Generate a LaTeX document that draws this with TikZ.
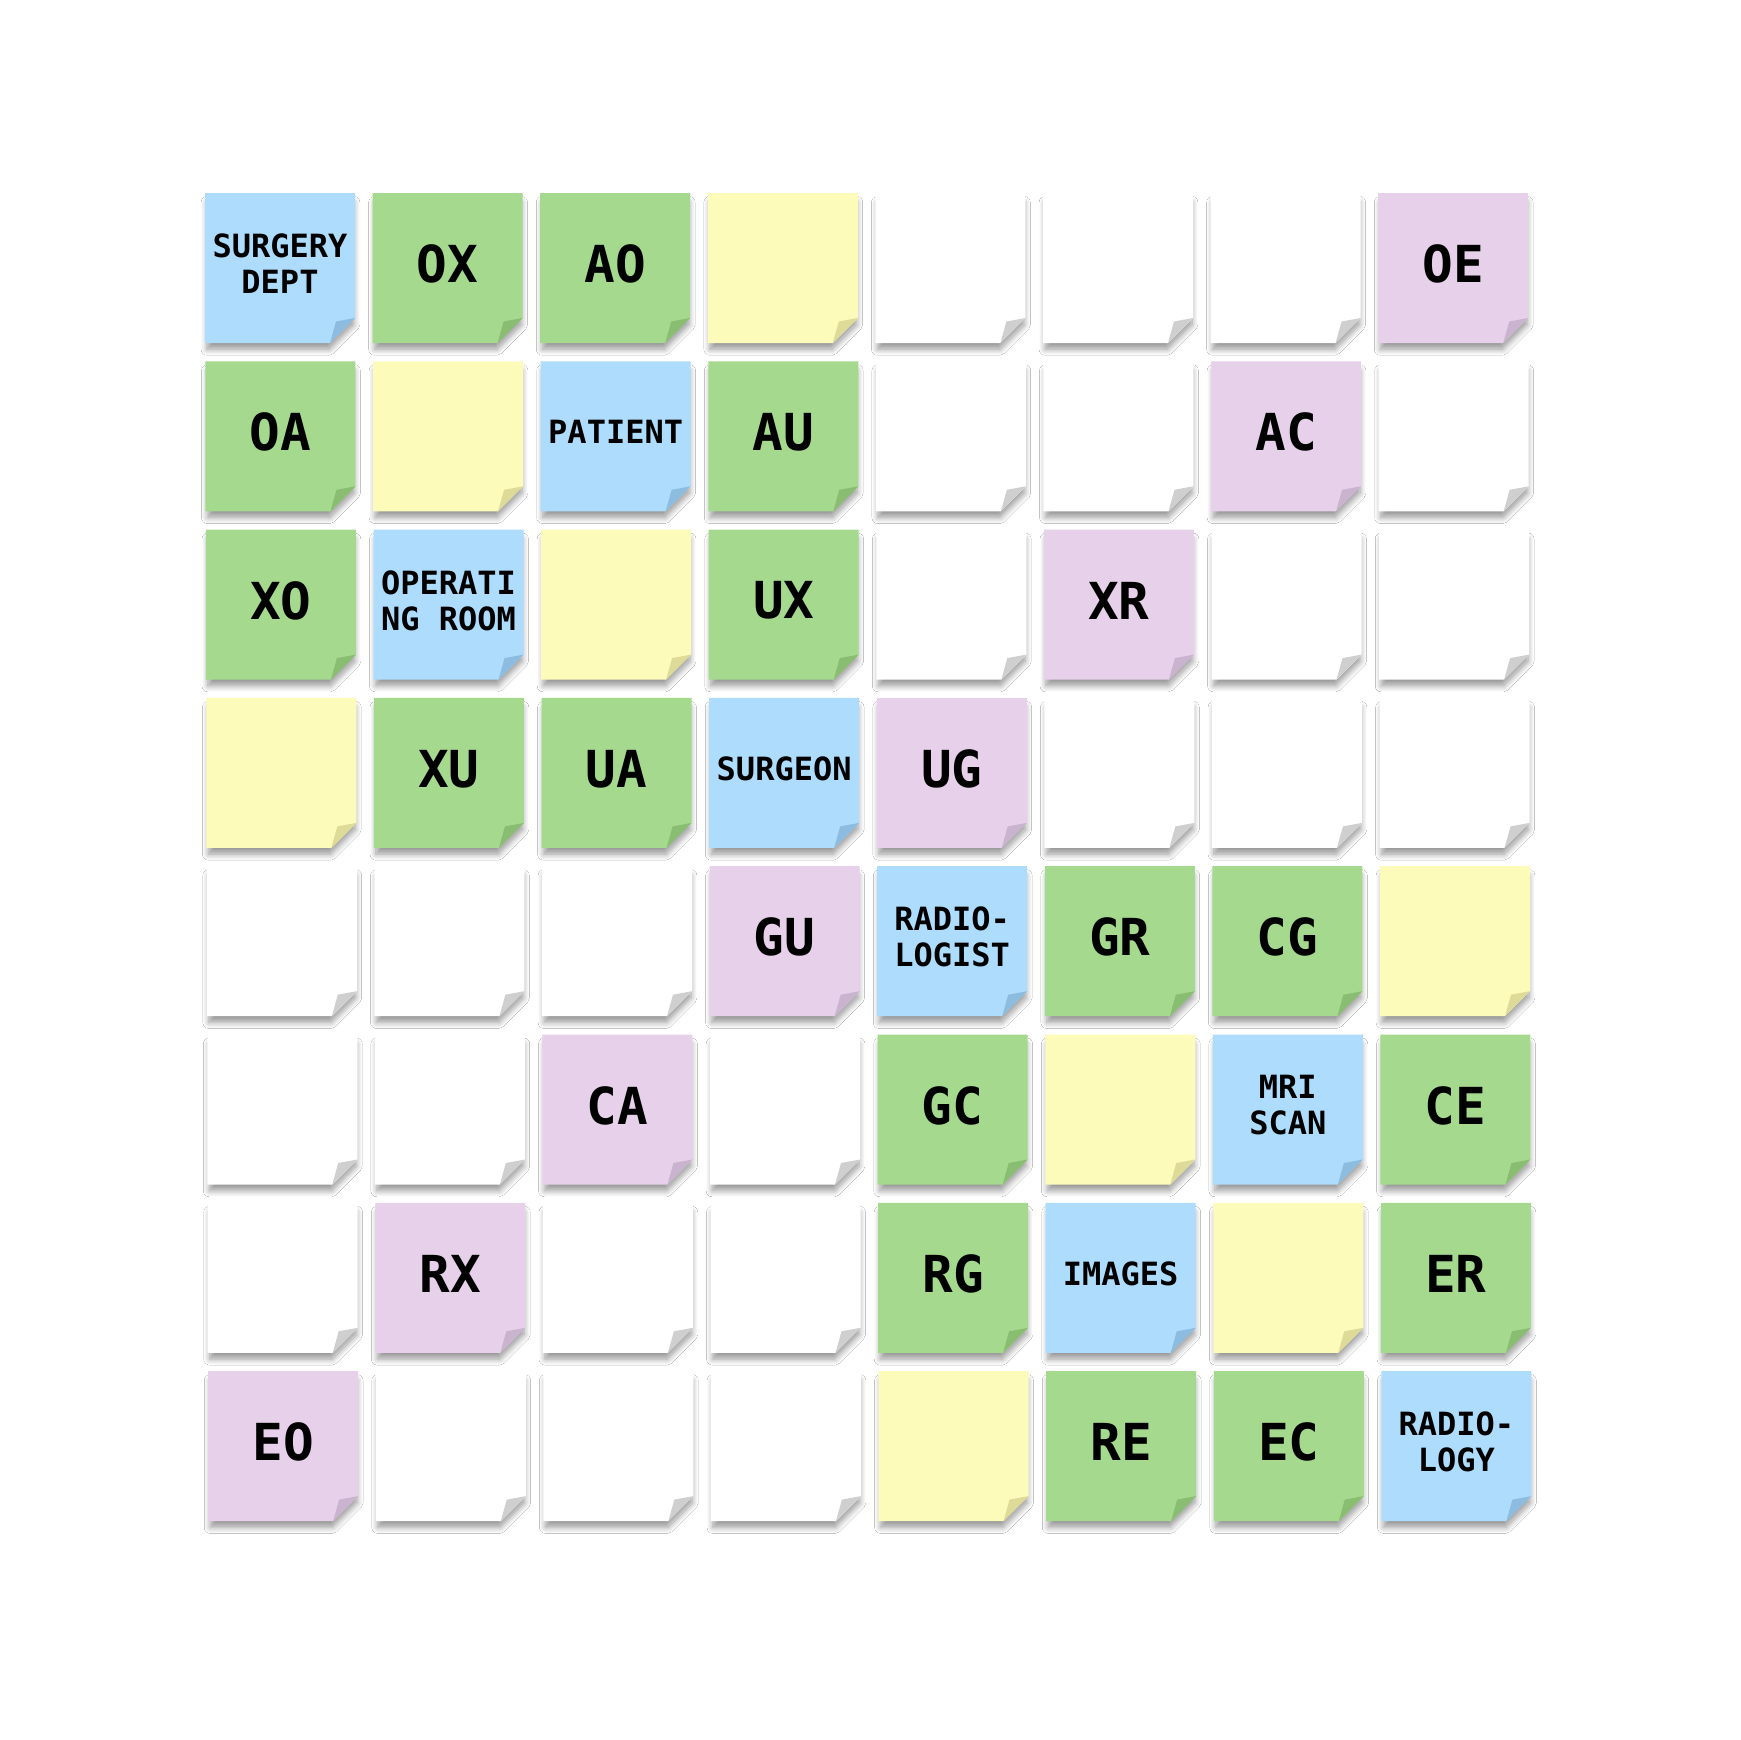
\documentclass[tikz,border=0pt]{standalone}
\usepackage{fontspec}
\setmonofont{DejaVu Sans Mono}
\usetikzlibrary{shadows.blur}
\definecolor{nblue}{HTML}{ADDCFC}
\definecolor{fblue}{HTML}{8CBDE0}
\definecolor{ngreen}{HTML}{A5DA8E}
\definecolor{fgreen}{HTML}{88BD72}
\definecolor{nyellow}{HTML}{FDFBBA}
\definecolor{fyellow}{HTML}{DEDA98}
\definecolor{npurple}{HTML}{E6D0EA}
\definecolor{fpurple}{HTML}{C9B3CE}
\definecolor{nwhite}{HTML}{FFFFFF}
\definecolor{fwhite}{HTML}{CFCFCF}
\tikzset{
  notebody/.style={fill=#1, blur shadow={shadow xshift=0.5pt, shadow yshift=-8pt, shadow scale=0.98, shadow blur radius=6pt, shadow blur steps=8, shadow opacity=40}},
  notefold/.style={fill=#1},
  bigtxt/.style={inner sep=0pt, font=\fontsize{51}{56}\selectfont\ttfamily\bfseries},
  smalltxt/.style={inner sep=0pt, align=center, font=\fontsize{32}{36}\selectfont\ttfamily\bfseries},
}
% #1 name, #2 col, #3 row, #4 colour key, #5 text style, #6 text
\newcommand\stickynote[6]{%
  \pgfmathsetmacro\nx{205+167.6*#2+0.45*#3}%
  \pgfmathsetmacro\ny{193+168.3*#3}%
  \fill[notebody=n#4] (\nx,\ny) -- ++(150,0) -- ++(0,125) -- ++(-25,25) -- ++(-125,0) -- cycle;
  \fill[notefold=f#4] (\nx+125,\ny+150) -- (\nx+150,\ny+125) -- (\nx+131,\ny+128.5) -- cycle;
  \node[#5] (#1) at (\nx+75,\ny+71) {#6};%
}
\begin{document}
\begin{tikzpicture}[x=1pt,y=-1pt]
\useasboundingbox[fill=white] (0,0) rectangle (1740,1740);
% row 0
\stickynote{n00}{0}{0}{blue}{smalltxt}{SURGERY\\DEPT}
\stickynote{n01}{1}{0}{green}{bigtxt}{OX}
\stickynote{n02}{2}{0}{green}{bigtxt}{AO}
\stickynote{n03}{3}{0}{yellow}{bigtxt}{}
\stickynote{n04}{4}{0}{white}{bigtxt}{}
\stickynote{n05}{5}{0}{white}{bigtxt}{}
\stickynote{n06}{6}{0}{white}{bigtxt}{}
\stickynote{n07}{7}{0}{purple}{bigtxt}{OE}
% row 1
\stickynote{n10}{0}{1}{green}{bigtxt}{OA}
\stickynote{n11}{1}{1}{yellow}{bigtxt}{}
\stickynote{n12}{2}{1}{blue}{smalltxt}{PATIENT}
\stickynote{n13}{3}{1}{green}{bigtxt}{AU}
\stickynote{n14}{4}{1}{white}{bigtxt}{}
\stickynote{n15}{5}{1}{white}{bigtxt}{}
\stickynote{n16}{6}{1}{purple}{bigtxt}{AC}
\stickynote{n17}{7}{1}{white}{bigtxt}{}
% row 2
\stickynote{n20}{0}{2}{green}{bigtxt}{XO}
\stickynote{n21}{1}{2}{blue}{smalltxt}{OPERATI\\NG ROOM}
\stickynote{n22}{2}{2}{yellow}{bigtxt}{}
\stickynote{n23}{3}{2}{green}{bigtxt}{UX}
\stickynote{n24}{4}{2}{white}{bigtxt}{}
\stickynote{n25}{5}{2}{purple}{bigtxt}{XR}
\stickynote{n26}{6}{2}{white}{bigtxt}{}
\stickynote{n27}{7}{2}{white}{bigtxt}{}
% row 3
\stickynote{n30}{0}{3}{yellow}{bigtxt}{}
\stickynote{n31}{1}{3}{green}{bigtxt}{XU}
\stickynote{n32}{2}{3}{green}{bigtxt}{UA}
\stickynote{n33}{3}{3}{blue}{smalltxt}{SURGEON}
\stickynote{n34}{4}{3}{purple}{bigtxt}{UG}
\stickynote{n35}{5}{3}{white}{bigtxt}{}
\stickynote{n36}{6}{3}{white}{bigtxt}{}
\stickynote{n37}{7}{3}{white}{bigtxt}{}
% row 4
\stickynote{n40}{0}{4}{white}{bigtxt}{}
\stickynote{n41}{1}{4}{white}{bigtxt}{}
\stickynote{n42}{2}{4}{white}{bigtxt}{}
\stickynote{n43}{3}{4}{purple}{bigtxt}{GU}
\stickynote{n44}{4}{4}{blue}{smalltxt}{RADIO-\\LOGIST}
\stickynote{n45}{5}{4}{green}{bigtxt}{GR}
\stickynote{n46}{6}{4}{green}{bigtxt}{CG}
\stickynote{n47}{7}{4}{yellow}{bigtxt}{}
% row 5
\stickynote{n50}{0}{5}{white}{bigtxt}{}
\stickynote{n51}{1}{5}{white}{bigtxt}{}
\stickynote{n52}{2}{5}{purple}{bigtxt}{CA}
\stickynote{n53}{3}{5}{white}{bigtxt}{}
\stickynote{n54}{4}{5}{green}{bigtxt}{GC}
\stickynote{n55}{5}{5}{yellow}{bigtxt}{}
\stickynote{n56}{6}{5}{blue}{smalltxt}{MRI\\SCAN}
\stickynote{n57}{7}{5}{green}{bigtxt}{CE}
% row 6
\stickynote{n60}{0}{6}{white}{bigtxt}{}
\stickynote{n61}{1}{6}{purple}{bigtxt}{RX}
\stickynote{n62}{2}{6}{white}{bigtxt}{}
\stickynote{n63}{3}{6}{white}{bigtxt}{}
\stickynote{n64}{4}{6}{green}{bigtxt}{RG}
\stickynote{n65}{5}{6}{blue}{smalltxt}{IMAGES}
\stickynote{n66}{6}{6}{yellow}{bigtxt}{}
\stickynote{n67}{7}{6}{green}{bigtxt}{ER}
% row 7
\stickynote{n70}{0}{7}{purple}{bigtxt}{EO}
\stickynote{n71}{1}{7}{white}{bigtxt}{}
\stickynote{n72}{2}{7}{white}{bigtxt}{}
\stickynote{n73}{3}{7}{white}{bigtxt}{}
\stickynote{n74}{4}{7}{yellow}{bigtxt}{}
\stickynote{n75}{5}{7}{green}{bigtxt}{RE}
\stickynote{n76}{6}{7}{green}{bigtxt}{EC}
\stickynote{n77}{7}{7}{blue}{smalltxt}{RADIO-\\LOGY}
\end{tikzpicture}
\end{document}
